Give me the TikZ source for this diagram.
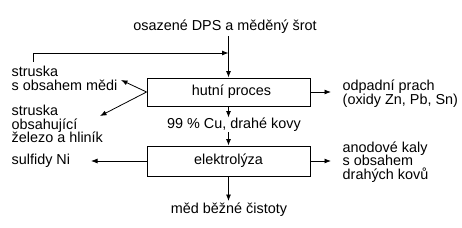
\documentclass[tikz,border=0pt]{standalone}
\usepackage{fontspec}
\setmainfont{Liberation Sans}
\usetikzlibrary{arrows.meta}
\begin{document}
\begin{tikzpicture}[x=1pt,y=-1pt,
  every node/.style={font=\fontsize{14.4}{13.8}\selectfont, inner sep=0.5pt},
  procbox/.style={draw, line width=0.9pt, minimum width=163pt, inner sep=0pt},
  lbl/.style={align=left},
  arr/.style={line width=0.8pt, -{Latex[length=6.5pt,width=5pt]}}]
\useasboundingbox (0,0) rectangle (462,227);
\node (top) at (225,27) {osazené DPS a měděný šrot};
\node[procbox, minimum height=28pt] (hut) at (228.5,92) {\hspace*{6pt}hutní proces};
\node[procbox, minimum height=30pt] (ele) at (228.5,161) {elektrolýza};
\node[lbl, anchor=west] (st1) at (11,78) {struska\\s obsahem mědi};
\node[lbl, anchor=west] (st2) at (11,124) {struska\\obsahující\\železo a hliník};
\node[lbl, anchor=west] (prach) at (342,94) {odpadní prach\\(oxidy Zn, Pb, Sn)};
\node (cu) at (234,125) {99 \% Cu, drahé kovy};
\node[lbl, anchor=west] (sulf) at (11,161) {sulfidy Ni};
\node[lbl, anchor=west] (kaly) at (342,162) {anodové kaly\\s obsahem\\drahých kovů};
\node (med) at (229,210) {měd běžné čistoty};
\coordinate (fbs) at (33,62);
\coordinate (fb) at (228.5,53);
\coordinate (st1e) at (121,80);
\coordinate (st2e) at (100,116);
\coordinate (sulfe) at (91,161);
\coordinate (prache) at (331,92);
\coordinate (kalye) at (331,161);
\coordinate (mede) at (228.5,201);
\draw[arr] ([yshift=-2pt]top.south -| hut.north) -- (hut.north);
\draw[arr] (fbs) |- (fb);
\draw[arr] (hut.west) -- (st1e);
\draw[arr] (hut.west) -- (st2e);
\draw[arr] (hut.east) -- (prache);
\draw[arr] (hut.south) -- (hut.south |- cu.north);
\draw[arr] (hut.south |- cu.south) -- (ele.north);
\draw[arr] (ele.west) -- (sulfe);
\draw[arr] (ele.east) -- (kalye);
\draw[arr] (ele.south) -- (mede);
\end{tikzpicture}
\end{document}
